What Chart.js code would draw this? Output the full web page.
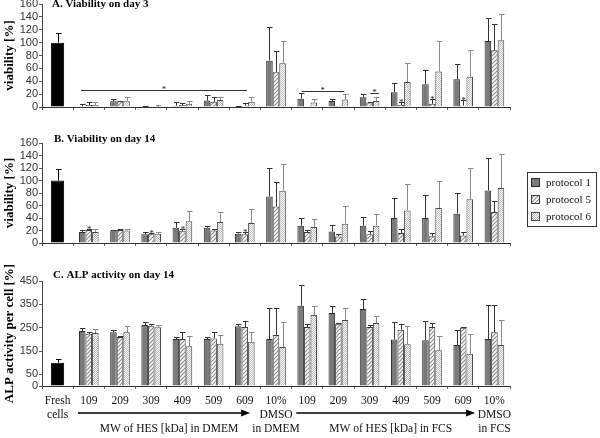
<!DOCTYPE html>
<html><head><meta charset="utf-8">
<script src="https://cdn.jsdelivr.net/npm/chart.js@4.4.1/dist/chart.umd.min.js"></script>
<style>
html,body{margin:0;padding:0;background:#fff;width:600px;height:438px;overflow:hidden;position:relative;}
canvas{position:absolute;left:0;}
</style></head><body>
<canvas id="cA" width="600" height="115" style="top:0px;width:600px;height:115px"></canvas>
<canvas id="cB" width="600" height="118" style="top:130px;width:600px;height:118px"></canvas>
<canvas id="cC" width="600" height="173" style="top:265px;width:600px;height:173px"></canvas>
<script>
const N = null;
const categories = [["Fresh","cells"],"109","209","309","409","509","609",["10%","DMSO","in DMEM"],"109","209","309","409","509","609",["10%","DMSO","in FCS"]];
const seriesNames = ["protocol 1","protocol 5","protocol 6"];

// Panel A: viability on day 3 (mean, SD)
const freshA   = [100,N,N,N,N,N,N,N,N,N,N,N,N,N,N];
const freshSdA = [15,N,N,N,N,N,N,N,N,N,N,N,N,N,N];
const p1A   = [N,1,9,1,2,10,1,72,13,9.5,15,23,35.5,43,102.5];
const p1SdA = [N,4,3,1,5,8,1,52,8,3.5,5,14,21.5,24,36];
const p5A   = [N,3,9,0,3,8,2,54,0,1.5,7,3,5,2,88];
const p5SdA = [N,4,1,0,3,7,4,33,0,0,1,4,8,9.5,41];
const p6A   = [N,3,9,0,5,11,8,68,7,11.5,9.5,39,55,47,103.5];
const p6SdA = [N,5,7,3,5,4,8,34,6,8.5,5.5,29,47,41,41.5];
const sigLinesA = [[0.75,6.07,26],[7.82,9.18,25],[10.02,10.3,21]];
const sigStarsA = [11,12,13];

// Panel B: viability on day 14
const freshB   = [100,N,N,N,N,N,N,N,N,N,N,N,N,N,N];
const freshSdB = [19,N,N,N,N,N,N,N,N,N,N,N,N,N,N];
const p1B   = [N,17.6,20,14,24.5,24.5,15,74.6,27.7,18.6,27.7,40,40,47,84];
const p1SdB = [N,3.4,1,3.6,9,3.5,3,45.4,12.3,10.4,13.9,32,37,33,52];
const p5B   = [N,21,21,14,19.7,20,14,58.6,17.6,10.6,14,16,11,12,49.6];
const p5SdB = [N,2,2,2,2.3,2.7,3,39,3.4,3.8,5,6.7,5,5.6,17];
const p6B   = [N,17.6,20,15,34.7,33.5,32,83.7,25.6,31,27.7,52,56,70,88];
const p6SdB = [N,5.4,2.7,2.6,17.3,15.5,22,43.3,13.4,28.7,19.3,42,43,50,54];
const sigStarsB = [1,3,4,6];

// Panel C: ALP activity per cell on day 14
const freshC   = [100,N,N,N,N,N,N,N,N,N,N,N,N,N,N];
const freshSdC = [17,N,N,N,N,N,N,N,N,N,N,N,N,N,N];
const p1C   = [N,236,230,261,201,201,256,201,344,313,330,199,196,176,201];
const p1SdC = [N,11,9,12,9,9,11,132,88,31,43,74,83,65,146];
const p5C   = [N,224,210,258,201,204,253,219,253,267,253,241,253,250,230];
const p5SdC = [N,6,3,6,29,26,26,114,11,5,8,23,17,2,117];
const p6C   = [N,227,230,252,170,181,190,167,304,283,270,179,153,138,176];
const p6SdC = [N,17,26,9,43,38,42,106,40,50,31,77,60,83,106];
const ticksC = [0,50,150,250,350,450];
const arrows = [[0.65,6.17,"MW of HES [kDa] in DMEM"],[7.65,13.38,"MW of HES [kDa] in FCS"]];

const SERIF = "'Liberation Serif','Times New Roman',serif";
const SANS = "'Liberation Sans',Arial,sans-serif";

function hatchPattern(){
  const c=document.createElement('canvas');c.width=4;c.height=4;
  const g=c.getContext('2d');g.fillStyle='#fff';g.fillRect(0,0,4,4);
  g.strokeStyle='#8c8c8c';g.lineWidth=1.1;g.beginPath();
  g.moveTo(0,4);g.lineTo(4,0);g.moveTo(-1,1);g.lineTo(1,-1);g.moveTo(3,5);g.lineTo(5,3);g.stroke();
  return g.createPattern(c,'repeat');
}
function dotPattern(){
  const c=document.createElement('canvas');c.width=2;c.height=2;
  const g=c.getContext('2d');g.fillStyle='#fff';g.fillRect(0,0,2,2);
  g.fillStyle='#bcbcbc';g.fillRect(0,0,1,1);g.fillRect(1,1,1,1);
  return g.createPattern(c,'repeat');
}
const HATCH = hatchPattern(), DOTS = dotPattern();
const fills = ['#7a7a7a', HATCH, DOTS];
const borders = ['#2a2a2a','#3a3a3a','#4a4a4a'];
const errColors = ['#333','#333','#8a8a8a'];

const errPlugin = {
  id:'errbars',
  afterDatasetsDraw(chart){
    const ctx=chart.ctx, y=chart.scales.y;
    ctx.save();
    chart.data.datasets.forEach((ds,di)=>{
      const meta=chart.getDatasetMeta(di);
      meta.data.forEach((bar,i)=>{
        const v=ds.data[i], s=ds.sd?ds.sd[i]:null;
        if(v==null||s==null||s<=0) return;
        const yt=Math.round(y.getPixelForValue(v+s))+0.5;
        const x=Math.round(bar.x)+0.5;
        ctx.strokeStyle=ds.errColor;ctx.lineWidth=1;
        ctx.beginPath();
        ctx.moveTo(x,bar.y);ctx.lineTo(x,yt);
        ctx.moveTo(x-2.5,yt);ctx.lineTo(x+3,yt);
        ctx.stroke();
      });
    });
    ctx.restore();
  }
};

function catPx(chart,pos){
  const x=chart.scales.x; const c0=x.getPixelForValue(0), c1=x.getPixelForValue(1);
  return c0+pos*(c1-c0);
}

function makePanel(id, cfg){
  const datasets=[{
    label:'Fresh cells', data:cfg.fresh, sd:cfg.freshSd, backgroundColor:'#000', borderColor:'#000',
    borderWidth:1, grouped:false, categoryPercentage:0.42, barPercentage:1, errColor:'#000'
  }];
  cfg.series.forEach((s,k)=>datasets.push({
    label:seriesNames[k], data:s[0], sd:s[1], backgroundColor:fills[k], borderColor:borders[k],
    borderWidth:1, categoryPercentage:0.63, barPercentage:1, errColor:errColors[k]
  }));
  const yScale={
    min:0,max:cfg.max,
    ticks:{stepSize:cfg.step,autoSkip:false,font:{family:SANS,size:11},color:'#333',padding:1},
    grid:{display:true,drawOnChartArea:false,tickLength:3,color:'#555'},
    border:{display:true,color:'#444',width:1},
    title:{display:true,text:cfg.yTitle,font:{family:SERIF,size:13,weight:'bold'},color:'#000',padding:{top:2,bottom:0}},
    afterFit(s){s.width=42;s.paddingTop=0;s.paddingBottom=0;}
  };
  if(cfg.ticks){ yScale.afterBuildTicks=(s)=>{s.ticks=cfg.ticks.map(v=>({value:v}));}; }
  return new Chart(document.getElementById(id),{
    type:'bar',
    data:{labels:categories,datasets},
    options:{
      responsive:false,animation:false,devicePixelRatio:1,
      layout:{padding:{top:cfg.padTop,right:90,left:0,bottom:0}},
      plugins:{legend:{display:false},tooltip:{enabled:false},title:{display:false}},
      scales:{
        x:{
          grid:{display:true,drawOnChartArea:false,tickLength:3,color:'#666',offset:true},
          border:{display:true,color:'#333',width:1},
          ticks:{display:!!cfg.showLabels,autoSkip:false,maxRotation:0,minRotation:0,padding:5,color:'#111',
                 font:{family:SERIF,size:11.5,lineHeight:'14px'}},
          afterFit(s){s.height=cfg.xHeight;s.paddingLeft=0;s.paddingRight=0;}
        },
        y:yScale
      }
    },
    plugins:[errPlugin,{
      id:'annot',
      afterDraw(chart){
        const ctx=chart.ctx, ca=chart.chartArea, y=chart.scales.y;
        ctx.save();
        ctx.fillStyle='#000';ctx.font='bold 11px '+SERIF;ctx.textBaseline='alphabetic';ctx.textAlign='left';
        ctx.fillText(cfg.title, ca.left+cfg.titleDx, ca.top+cfg.titleDy);
        ctx.strokeStyle='#333';ctx.lineWidth=1;ctx.fillStyle='#222';
        (cfg.sigLines||[]).forEach(([a,b,v])=>{
          const x1=catPx(chart,a), x2=catPx(chart,b), yy=Math.round(y.getPixelForValue(v))+0.5;
          ctx.beginPath();ctx.moveTo(x1,yy);ctx.lineTo(x2,yy);ctx.stroke();
          ctx.font='9px '+SERIF;ctx.textAlign='center';ctx.textBaseline='alphabetic';
          ctx.fillText('*',(x1+x2)/2,yy+1);
        });
        const m5=chart.getDatasetMeta(2), ds5=chart.data.datasets[2];
        (cfg.sigStars||[]).forEach(i=>{
          const bar=m5.data[i]; const top=ds5.data[i]+(ds5.sd[i]||0);
          ctx.font='9px '+SERIF;ctx.textAlign='center';ctx.textBaseline='alphabetic';
          ctx.fillText('*',bar.x+0.5,y.getPixelForValue(top)+3);
        });
        if(cfg.legend){
          const L=cfg.legend;
          ctx.strokeStyle='#333';ctx.lineWidth=1;
          ctx.strokeRect(L.x+0.5,L.y+0.5,L.w,L.h);
          seriesNames.forEach((n,k)=>{
            const cy=L.y+10+k*17;
            ctx.fillStyle=fills[k];ctx.fillRect(L.x+4,cy-4,8,8);
            ctx.strokeStyle=borders[k];ctx.strokeRect(L.x+4.5,cy-3.5,8,8);
            ctx.fillStyle='#111';ctx.font='11px '+SERIF;ctx.textAlign='left';ctx.textBaseline='middle';
            ctx.fillText(n,L.x+19,cy+1);
          });
        }
        if(cfg.arrows){
          cfg.arrows.forEach(([a,b,t])=>{
            const x1=catPx(chart,a), x2=catPx(chart,b), yy=ca.bottom+27;
            ctx.strokeStyle='#000';ctx.fillStyle='#000';ctx.lineWidth=1.5;
            ctx.beginPath();ctx.moveTo(x1,yy);ctx.lineTo(x2-8,yy);ctx.stroke();
            ctx.beginPath();ctx.moveTo(x2,yy);ctx.lineTo(x2-9,yy-3.5);ctx.lineTo(x2-9,yy+3.5);ctx.closePath();ctx.fill();
            ctx.fillStyle='#111';ctx.font='11.5px '+SERIF;ctx.textAlign='center';ctx.textBaseline='middle';
            ctx.fillText(t,(x1+x2)/2+5,ca.bottom+43);
          });
        }
        ctx.restore();
      }
    }]
  });
}

makePanel('cA',{fresh:freshA,freshSd:freshSdA,series:[[p1A,p1SdA],[p5A,p5SdA],[p6A,p6SdA]],
  max:160,step:20,yTitle:'viability [%]',padTop:4,xHeight:8,title:'A. Viability on day 3',titleDx:10,titleDy:3,
  sigLines:sigLinesA,sigStars:sigStarsA});
makePanel('cB',{fresh:freshB,freshSd:freshSdB,series:[[p1B,p1SdB],[p5B,p5SdB],[p6B,p6SdB]],
  max:160,step:20,yTitle:'viability [%]',padTop:13,xHeight:5,title:'B. Viability on day 14',titleDx:12,titleDy:-1,
  sigStars:sigStarsB,legend:{x:527,y:42,w:69,h:54}});
makePanel('cC',{fresh:freshC,freshSd:freshSdC,series:[[p1C,p1SdC],[p5C,p5SdC],[p6C,p6SdC]],
  max:450,ticks:ticksC,yTitle:'ALP activity per cell [%]',padTop:16,xHeight:52,showLabels:true,
  title:'C. ALP activity on day 14',titleDx:11,titleDy:-3,arrows:arrows});
</script>
</body></html>
